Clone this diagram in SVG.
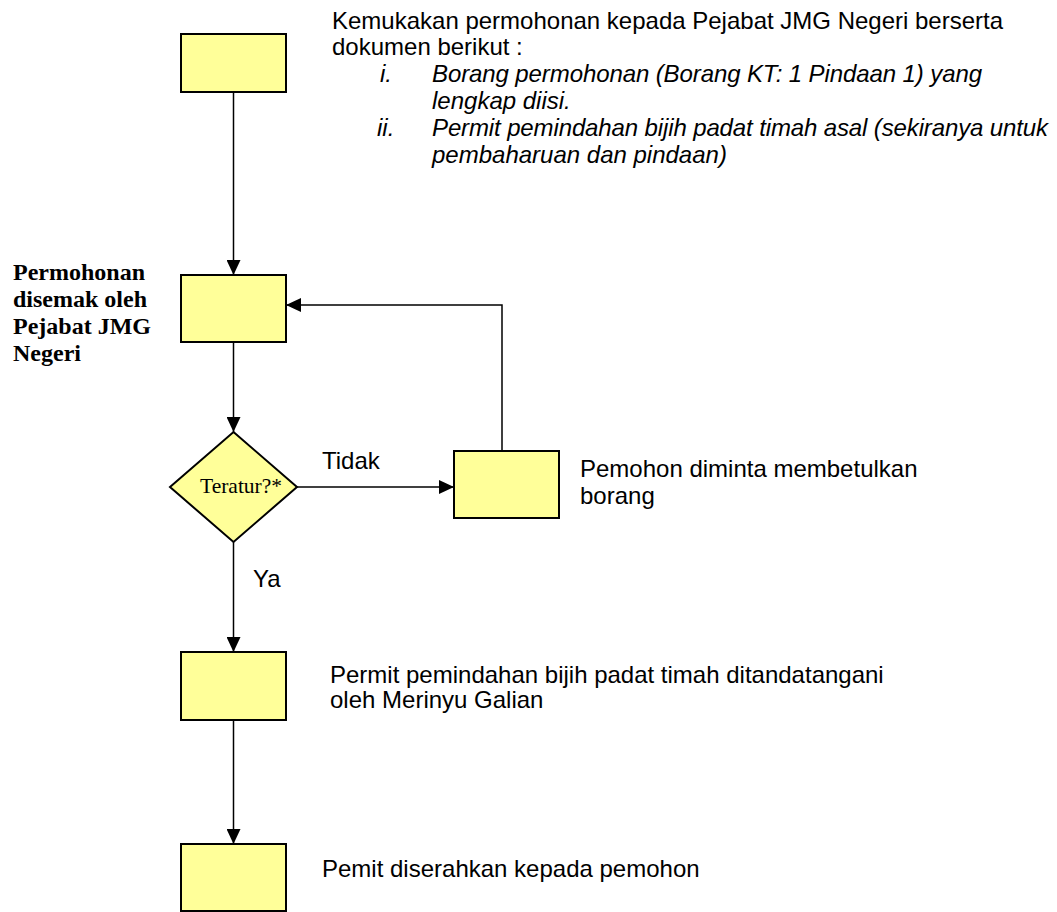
<svg xmlns="http://www.w3.org/2000/svg" width="1057" height="912" viewBox="0 0 1057 912">
<style>
.box{fill:#ffff99;stroke:#000;stroke-width:2}
.con{fill:none;stroke:#000;stroke-width:1.5}
.t{font-family:"Liberation Sans",Arial,sans-serif;font-size:24px;fill:#000}
.it{font-style:italic}
.b{font-family:"Liberation Serif","Times New Roman",serif;font-size:24px;font-weight:bold;fill:#000}
.s{font-family:"Liberation Serif","Times New Roman",serif;font-size:21.5px;fill:#000}
</style>
<defs>
<marker id="arr" markerUnits="userSpaceOnUse" markerWidth="15" markerHeight="14" refX="15" refY="7" orient="auto">
<path d="M0,0 L15,7 L0,14 z" fill="#000"/>
</marker>
</defs>
<rect width="1057" height="912" fill="#fff"/>
<g id="connectors">
<line class="con" x1="233.5" y1="93" x2="233.5" y2="275" marker-end="url(#arr)"/>
<line class="con" x1="233.5" y1="343" x2="233.5" y2="432" marker-end="url(#arr)"/>
<line class="con" x1="233.5" y1="542" x2="233.5" y2="652" marker-end="url(#arr)"/>
<line class="con" x1="233.5" y1="721" x2="233.5" y2="844" marker-end="url(#arr)"/>
<line class="con" x1="297" y1="487" x2="454" y2="487" marker-end="url(#arr)"/>
<polyline class="con" points="502,451 502,305 286,305" marker-end="url(#arr)"/>
<text class="t" x="322" y="469">Tidak</text>
<text class="t" x="253" y="587">Ya</text>
</g>
<g id="n1">
<rect class="box" x="181" y="34" width="105" height="58"/>
<text class="t" x="332" y="29">Kemukakan permohonan kepada Pejabat JMG Negeri berserta</text>
<text class="t" x="332" y="55">dokumen berikut :</text>
<text class="t it" x="380" y="82">i.</text>
<text class="t it" x="432" y="82" textLength="550">Borang permohonan (Borang KT: 1 Pindaan 1) yang</text>
<text class="t it" x="432" y="109">lengkap diisi.</text>
<text class="t it" x="377" y="136">ii.</text>
<text class="t it" x="432" y="136" textLength="616">Permit pemindahan bijih padat timah asal (sekiranya untuk</text>
<text class="t it" x="432" y="163">pembaharuan dan pindaan)</text>
</g>
<g id="n2">
<rect class="box" x="181" y="275" width="105" height="67"/>
<text class="b" x="13" y="280">Permohonan</text>
<text class="b" x="13" y="307">disemak oleh</text>
<text class="b" x="13" y="334">Pejabat JMG</text>
<text class="b" x="13" y="361">Negeri</text>
</g>
<g id="n3">
<polygon class="box" points="233.5,432 297,487 233.5,542 170,487"/>
<text class="s" x="200" y="493">Teratur?*</text>
</g>
<g id="n4">
<rect class="box" x="454" y="451" width="105" height="67"/>
<text class="t" x="580" y="477">Pemohon diminta membetulkan</text>
<text class="t" x="580" y="504">borang</text>
</g>
<g id="n5">
<rect class="box" x="181" y="652" width="105" height="68"/>
<text class="t" x="330" y="683">Permit pemindahan bijih padat timah ditandatangani</text>
<text class="t" x="330" y="708">oleh Merinyu Galian</text>
</g>
<g id="n6">
<rect class="box" x="181" y="844" width="105" height="67"/>
<text class="t" x="322" y="877">Pemit diserahkan kepada pemohon</text>
</g>
</svg>
